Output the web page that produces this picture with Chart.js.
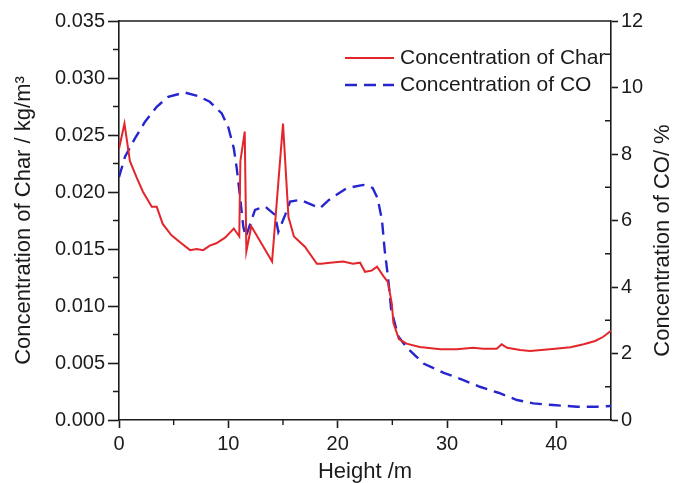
<!DOCTYPE html>
<html>
<head>
<meta charset="utf-8">
<script src="https://cdn.jsdelivr.net/npm/chart.js@4/dist/chart.umd.min.js"></script>
<style>
  html, body { margin: 0; padding: 0; background: #ffffff; }
  #wrap { width: 673px; height: 483px; position: relative; }
</style>
</head>
<body>
<div id="wrap"><canvas id="chart"></canvas></div>
<script>
// Char concentration along the riser height
const heightChar = [0, 0.5, 1.0, 1.6, 2.2, 3.0, 3.45, 4.0, 4.8, 5.7, 6.5, 7.1, 7.7, 8.3, 8.9, 9.7,
  10.5, 11.0, 11.1, 11.5, 11.65, 12.1, 14.0, 15.0, 15.5, 16.0, 17.0, 18.1, 18.5, 19.3, 20.5, 21.4,
  22.05, 22.5, 23.1, 23.6, 24.2, 24.6, 24.95, 25.1, 25.6, 26.3, 27.5, 29.4, 30.9, 32.4, 33.3,
  34.55, 35.0, 35.5, 36.7, 37.6, 39.4, 41.3, 42.5, 43.55, 44.3, 45.0];
const charConc = [0.0238, 0.0260, 0.0227, 0.0213, 0.0200, 0.0187, 0.0187, 0.0172, 0.0162, 0.0155,
  0.0149, 0.0150, 0.0149, 0.0153, 0.0155, 0.0160, 0.0168, 0.0161, 0.0227, 0.0253, 0.0148, 0.0170,
  0.0139, 0.0260, 0.0178, 0.0161, 0.0152, 0.0137, 0.0137, 0.0138, 0.0139, 0.0137, 0.0138, 0.0130,
  0.0131, 0.01345, 0.0126, 0.0121, 0.0102, 0.0085, 0.0071, 0.0067, 0.0064, 0.0062, 0.0062, 0.00634,
  0.00626, 0.00626, 0.00664, 0.00634, 0.00614, 0.00605, 0.0062, 0.00638, 0.00664, 0.00693, 0.0073,
  0.00783];

// CO concentration along the riser height
const heightCO = [0, 0.55, 1.46, 2.38, 3.45, 4.5, 6.0, 7.26, 8.3, 9.4, 10.0, 10.5, 10.77, 11.07,
  11.37, 11.6, 12.44, 13.36, 14.27, 14.57, 15.2, 15.65, 16.56, 18.4, 19.2, 20.8, 22.35, 23.2, 23.65,
  24.05, 24.3, 24.6, 24.9, 25.55, 26.4, 27.85, 29.7, 31.5, 33.0, 34.7, 36.4, 37.9, 39.7, 41.9, 43.7, 45];
const coConc = [7.3, 7.92, 8.47, 8.97, 9.42, 9.72, 9.85, 9.74, 9.57, 9.22, 8.8, 8.17, 7.57, 6.72,
  5.81, 5.51, 6.32, 6.42, 6.17, 5.66, 6.17, 6.57, 6.62, 6.37, 6.62, 6.97, 7.07, 6.98, 6.67, 6.02,
  5.11, 4.31, 3.31, 2.51, 2.15, 1.7, 1.42, 1.2, 1.0, 0.82, 0.6, 0.5, 0.45, 0.40, 0.40, 0.42];

const seriesLabels = ['Concentration of Char', 'Concentration of CO'];
const xTitle = 'Height /m';
const yTitle = 'Concentration of Char / kg/m\u00B3';
const y1Title = 'Concentration of CO/ %';

const FONT = '"Liberation Sans", Arial, sans-serif';
const INK = '#1b1b1b';

function pairs(xs, ys) { return xs.map((x, i) => ({ x: x, y: ys[i] })); }

// Frame, minor ticks, right-hand title and the in-plot legend
const decorations = {
  id: 'decorations',
  afterDraw(chart) {
    const ctx = chart.ctx;
    const a = chart.chartArea;
    const sx = chart.scales.x, sy = chart.scales.y, sy1 = chart.scales.y1;
    ctx.save();
    ctx.strokeStyle = INK;
    ctx.lineWidth = 1.6;
    // top border of the plot frame
    ctx.beginPath();
    ctx.moveTo(a.left, a.top);
    ctx.lineTo(a.right, a.top);
    ctx.stroke();

    const mids = (scale) => {
      const v = scale.ticks.map(t => t.value);
      const out = [];
      for (let i = 0; i < v.length - 1; i++) out.push((v[i] + v[i + 1]) / 2);
      return out;
    };
    ctx.lineWidth = 1.4;
    ctx.beginPath();
    mids(sx).forEach(v => {
      const p = sx.getPixelForValue(v);
      ctx.moveTo(p, a.bottom); ctx.lineTo(p, a.bottom + 5);
    });
    mids(sy).forEach(v => {
      const p = sy.getPixelForValue(v);
      ctx.moveTo(a.left, p); ctx.lineTo(a.left - 6, p);
    });
    mids(sy1).forEach(v => {
      const p = sy1.getPixelForValue(v);
      ctx.moveTo(a.right, p); ctx.lineTo(a.right - 6, p);
    });
    ctx.stroke();

    // right axis title, reading bottom to top
    ctx.fillStyle = INK;
    ctx.font = '22px ' + FONT;
    ctx.textAlign = 'center';
    ctx.textBaseline = 'middle';
    ctx.translate(663, (a.top + a.bottom) / 2 + 20);
    ctx.rotate(-Math.PI / 2);
    ctx.fillText(y1Title, 0, 0);
    ctx.restore();

    // legend
    ctx.save();
    ctx.font = '21px ' + FONT;
    ctx.textAlign = 'left';
    ctx.textBaseline = 'middle';
    chart.data.datasets.forEach((ds, i) => {
      const y = a.top + 37 + i * 27;
      const tx = a.right - 211;
      ctx.strokeStyle = ds.borderColor;
      ctx.lineWidth = ds.borderWidth;
      ctx.setLineDash(ds.borderDash || []);
      ctx.beginPath();
      ctx.moveTo(tx - 55, y);
      ctx.lineTo(tx - 6, y);
      ctx.stroke();
      ctx.setLineDash([]);
      ctx.fillStyle = INK;
      ctx.fillText(ds.label, tx, y);
    });
    ctx.restore();
  }
};

new Chart(document.getElementById('chart'), {
  type: 'line',
  data: {
    datasets: [
      {
        label: seriesLabels[0],
        data: pairs(heightChar, charConc),
        yAxisID: 'y',
        borderColor: '#e3262b',
        backgroundColor: '#e3262b',
        borderWidth: 2,
        pointRadius: 0,
        tension: 0
      },
      {
        label: seriesLabels[1],
        data: pairs(heightCO, coConc),
        yAxisID: 'y1',
        borderColor: '#2626cf',
        backgroundColor: '#2626cf',
        borderWidth: 2.4,
        borderDash: [12, 7],
        pointRadius: 0,
        tension: 0
      }
    ]
  },
  options: {
    responsive: true,
    maintainAspectRatio: false,
    animation: false,
    devicePixelRatio: 1,
    layout: { padding: { top: 21, left: 0, right: 0, bottom: 0 } },
    plugins: { legend: { display: false }, tooltip: { enabled: false } },
    scales: {
      x: {
        type: 'linear',
        min: 0, max: 45,
        afterFit(s) { s.height = 63; },
        ticks: { stepSize: 10, includeBounds: false, padding: 4, color: INK, font: { family: FONT, size: 20 } },
        grid: { drawOnChartArea: false, tickLength: 8, tickWidth: 1.6, tickColor: INK },
        border: { color: INK, width: 1.6 },
        title: { display: true, text: xTitle, color: INK, font: { family: FONT, size: 22, lineHeight: 1 }, padding: 0 }
      },
      y: {
        position: 'left',
        min: 0, max: 0.035,
        afterFit(s) { s.width = 119; },
        ticks: { stepSize: 0.005, padding: 3, color: INK, font: { family: FONT, size: 20 },
          callback: v => Number(v).toFixed(3) },
        grid: { drawOnChartArea: false, tickLength: 11, tickWidth: 1.6, tickColor: INK },
        border: { color: INK, width: 1.6 },
        title: { display: true, text: yTitle, color: INK, font: { family: FONT, size: 22 },
          padding: { top: 11, bottom: 0 } }
      },
      y1: {
        position: 'right',
        min: 0, max: 12,
        afterFit(s) { s.width = 62; },
        ticks: { stepSize: 2, padding: 3, color: INK, font: { family: FONT, size: 20 } },
        grid: { drawOnChartArea: false, tickLength: 7, tickWidth: 1.6, tickColor: INK },
        border: { color: INK, width: 1.6 }
      }
    }
  },
  plugins: [decorations]
});
</script>
</body>
</html>
